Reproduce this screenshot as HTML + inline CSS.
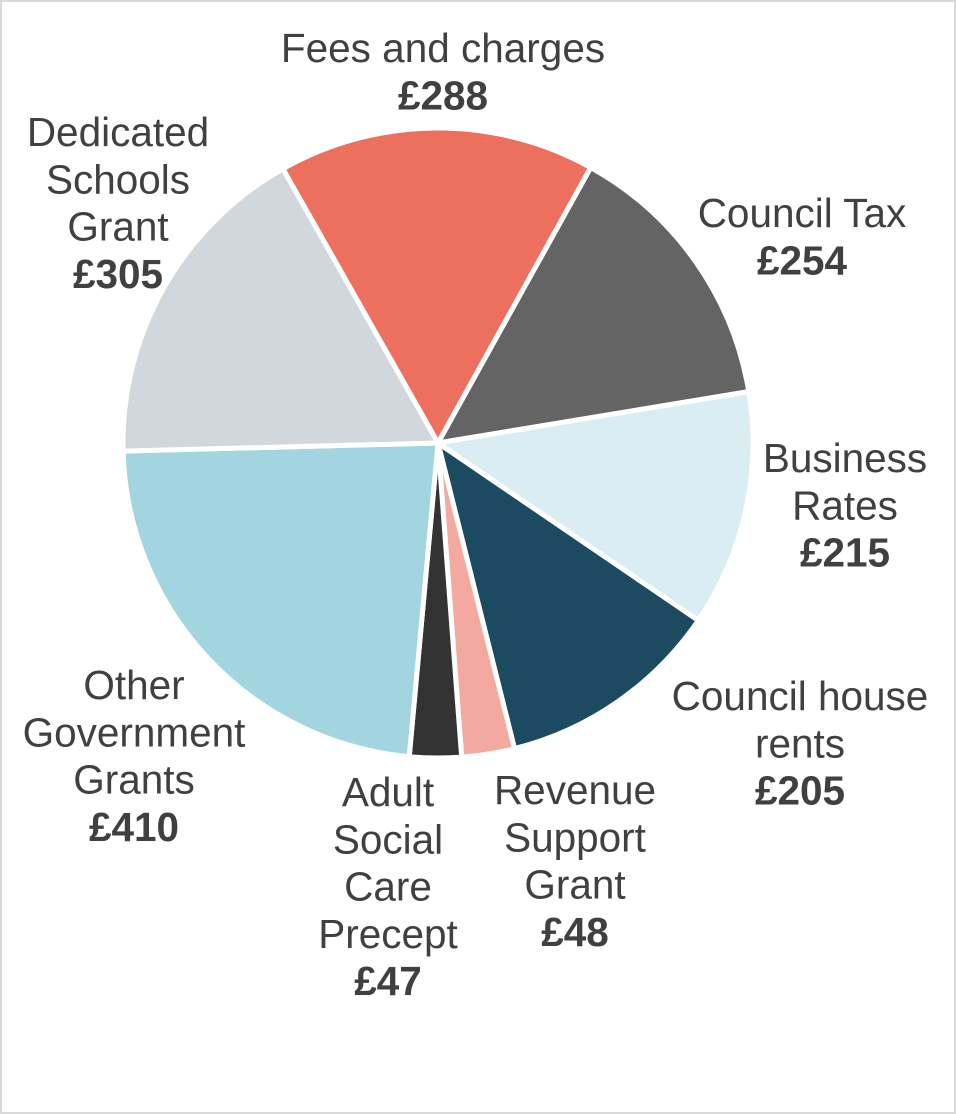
<!DOCTYPE html>
<html><head><meta charset="utf-8"><style>
html,body{margin:0;padding:0;background:#fff;}
svg{display:block;}
text{font-family:"Liberation Sans",sans-serif;font-size:40.5px;fill:#404040;}
.b{font-weight:bold;}
</style></head><body>
<svg width="956" height="1114">
<rect x="1" y="1" width="954" height="1112" fill="#fff" stroke="#d9d9d9" stroke-width="2"/>
<g id="slices"></g>
<g id="labels"></g>
</svg>
<script>
const categories=["Fees and charges","Council Tax","Business Rates","Council house rents","Revenue Support Grant","Adult Social Care Precept","Other Government Grants","Dedicated Schools Grant"];
const values=[288,254,215,205,48,47,410,305];
const valueLabels=["£288","£254","£215","£205","£48","£47","£410","£305"];
const colors=["#ED6F5E","#646464","#D9EDF2","#1B4A61","#F4A9A0","#333333","#A2D5DF","#D0D8DD"];
const labelLines=[["Fees and charges"],["Council Tax"],["Business","Rates"],["Council house","rents"],["Revenue","Support","Grant"],["Adult","Social","Care","Precept"],["Other","Government","Grants"],["Dedicated","Schools","Grant"]];
const labelPos=[[443,48],[802,213],[845,458],[800,696],[575,790],[388,792],[134,685],[118,132]];
const cx=438,cy=443,r=315,start=-29.5;
const NS="http://www.w3.org/2000/svg";
const total=values.reduce((a,b)=>a+b,0);
function pt(deg){const a=(deg-90)*Math.PI/180;return [cx+r*Math.cos(a),cy+r*Math.sin(a)];}
let ang=start;
const gs=document.getElementById('slices'),gl=document.getElementById('labels');
values.forEach((v,i)=>{
  const sweep=v/total*360;
  const p1=pt(ang),p2=pt(ang+sweep);
  const path=document.createElementNS(NS,'path');
  path.setAttribute('d',`M${cx},${cy}L${p1[0]},${p1[1]}A${r},${r} 0 ${sweep>180?1:0} 1 ${p2[0]},${p2[1]}Z`);
  path.setAttribute('fill',colors[i]);
  path.setAttribute('stroke','#fff');
  path.setAttribute('stroke-width','5');
  path.setAttribute('stroke-linejoin','round');
  
  
  gs.appendChild(path);
  ang+=sweep;
  const [lx,ly]=labelPos[i];
  const lines=labelLines[i].concat([valueLabels[i]]);
  lines.forEach((s,j)=>{
    const t=document.createElementNS(NS,'text');
    t.setAttribute('x',lx);t.setAttribute('y',ly+j*47.3);
    t.setAttribute('text-anchor','middle');t.setAttribute('dominant-baseline','central');
    if(j===lines.length-1)t.setAttribute('class','b');
    t.textContent=s;
    
    
    gl.appendChild(t);
  });
});
</script>
</body></html>
